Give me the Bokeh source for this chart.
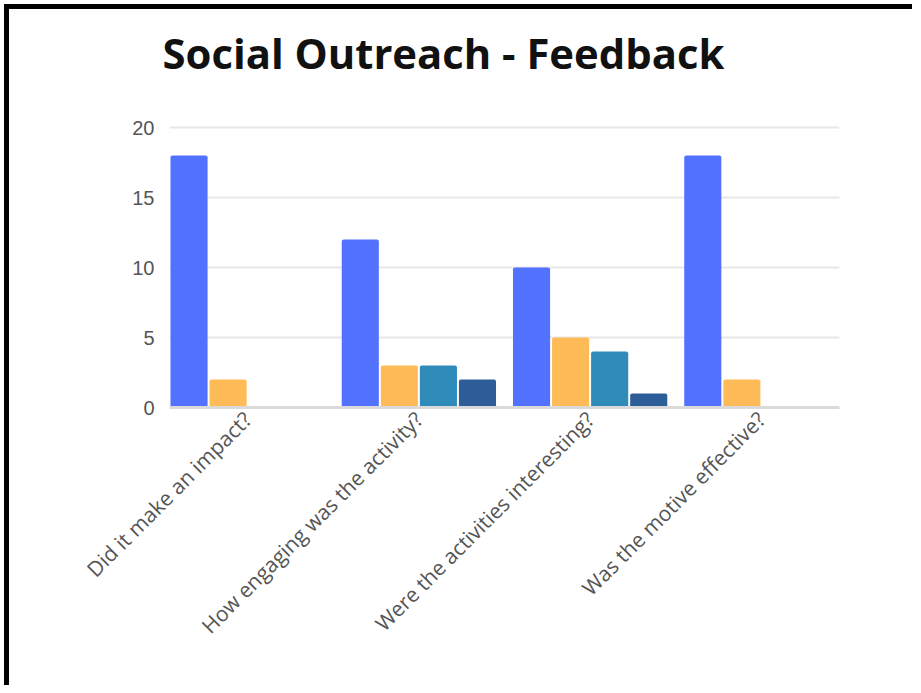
from math import pi
from bokeh.plotting import figure
from bokeh.layouts import column, row
from bokeh.models import ColumnDataSource, FactorRange, Range1d, FixedTicker, Spacer
from bokeh.transform import dodge
from bokeh.embed import file_html
from bokeh.resources import INLINE

questions = ["Did it make an impact?", "How engaging was the activity?",
             "Were the activities interesting?", "Was the motive effective?"]
series_names = ["Response 1", "Response 2", "Response 3", "Response 4"]
response_1 = [18, 12, 10, 18]
response_2 = [2, 3, 5, 2]
response_3 = [0, 3, 4, 0]
response_4 = [0, 2, 1, 0]
colors = ["#5271ff", "#ffbb57", "#2e8bba", "#2e5e9a"]
y_ticks = [0, 5, 10, 15, 20]

source = ColumnDataSource(dict(question=questions, r1=response_1, r2=response_2,
                               r3=response_3, r4=response_4))

GAP, EDGE = 4, 5
TOTAL_W, PH = 912, 676
PW = TOTAL_W - GAP - EDGE

p = figure(x_range=FactorRange(factors=questions, range_padding=0, factor_padding=0.096),
           y_range=Range1d(0, 23),
           frame_width=670, frame_height=322,
           min_border_left=160, min_border_right=PW - 160 - 670, min_border_top=76,
           min_border_bottom=PH - 76 - 322,
           output_backend="svg", toolbar_location=None,
           title="Social Outreach - Feedback")

cols = ["r1", "r2", "r3", "r4"]
n = len(cols)
slot = 1.0 / n
for i, (c, col) in enumerate(zip(cols, colors)):
    p.vbar(x=dodge("question", (i - (n - 1) / 2) * slot, range=p.x_range), top=c,
           width=slot * 0.95, source=source, fill_color=col, line_color=None,
           border_radius=2)

p.title.text_font = "Open Sans"
p.title.text_font_style = "bold"
p.title.text_font_size = "41.8px"
p.title.text_color = "#111111"
p.title.offset = -7
p.title.standoff = 10
p.title.vertical_align = "bottom"

p.outline_line_color = None
p.xgrid.grid_line_color = None
p.ygrid.grid_line_color = "#e8e8e8"
p.ygrid.grid_line_width = 2
p.yaxis.ticker = FixedTicker(ticks=y_ticks)
p.yaxis.axis_line_color = None
p.yaxis.major_tick_line_color = None
p.yaxis.minor_tick_line_color = None
p.yaxis.major_tick_out = 0
p.yaxis.major_tick_in = 0
p.yaxis.major_label_standoff = 15
p.yaxis.major_label_text_font = "Liberation Sans"
p.yaxis.major_label_text_font_size = "20px"
p.yaxis.major_label_text_color = "#555555"

p.xaxis.axis_line_color = "#dadada"
p.xaxis.axis_line_width = 3
p.xaxis.major_tick_line_color = None
p.xaxis.major_tick_out = 0
p.xaxis.major_tick_in = 0
p.xaxis.major_label_orientation = pi / 4
p.xaxis.major_label_standoff = 8
p.xaxis.major_label_text_font = "Open Sans"
p.xaxis.major_label_text_font_size = "21px"
p.xaxis.major_label_text_color = "#555555"

black = {"background-color": "#000000"}
layout = column(
    Spacer(width=TOTAL_W, height=GAP),
    row(Spacer(width=GAP, height=EDGE), Spacer(width=TOTAL_W - GAP, height=EDGE, styles=black), spacing=0),
    row(Spacer(width=GAP, height=PH), Spacer(width=EDGE, height=PH, styles=black), p, spacing=0),
    spacing=0)

open("out.html", "w").write(file_html(layout, INLINE))
